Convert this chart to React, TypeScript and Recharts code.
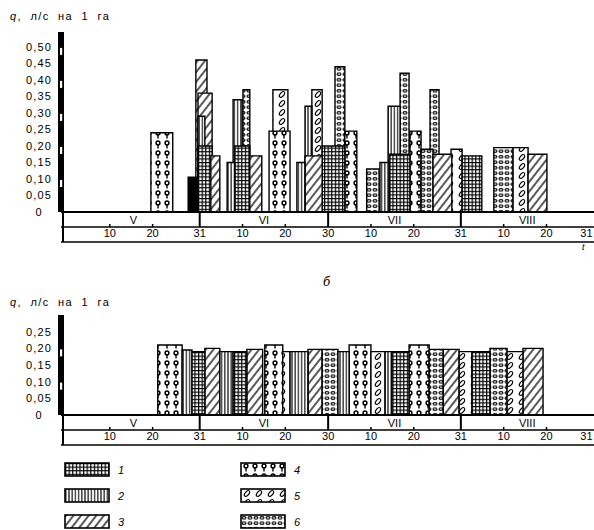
import { ComposedChart, Line, ReferenceArea, XAxis, YAxis } from "recharts";

// Hydromodule graph: a — before, б — after equalisation.
// x = days from 1 May, y = q (l/s per ha).

type Pat = "p1" | "p2" | "p3" | "p4" | "p5" | "p6" | "solid";

const MONTHS = ["V", "VI", "VII", "VIII"];
const MONTH_MID = [15.5, 46, 76.5, 107.5];
const MONTH_END = [31, 61, 92];
const DAY_TICKS = [10, 20, 31, 41, 51, 61, 71, 81, 92, 102, 112, 123];
const DAY_LABELS = ["10", "20", "31", "10", "20", "30", "10", "20", "31", "10", "20", "31"];
const X_DOMAIN: [number, number] = [-1.4, 123.1];

const TOP_Y_TICKS = [0, 0.05, 0.1, 0.15, 0.2, 0.25, 0.3, 0.35, 0.4, 0.45, 0.5];
const BOTTOM_Y_TICKS = [0, 0.05, 0.1, 0.15, 0.2, 0.25];

// [start day, end day, q, pattern]
const TOP_BARS: [number, number, number, Pat][] = [
  [19.6, 24.7, 0.24, "p4"],
  [28.3, 30.4, 0.105, "solid"],
  [30.1, 32.7, 0.46, "p3"],
  [30.6, 33.9, 0.36, "p3"],
  [30.6, 32.2, 0.29, "p2"],
  [30.6, 33.9, 0.2, "p1"],
  [33.6, 35.7, 0.17, "p3"],
  [37.4, 39.2, 0.15, "p2"],
  [38.8, 40.9, 0.34, "p2"],
  [41.1, 42.7, 0.37, "p6"],
  [39.2, 42.7, 0.2, "p1"],
  [42.7, 45.5, 0.17, "p3"],
  [48.1, 51.6, 0.37, "p5"],
  [47.2, 52.1, 0.245, "p4"],
  [53.7, 55.6, 0.15, "p2"],
  [55.6, 57.2, 0.32, "p2"],
  [57.2, 59.6, 0.37, "p5"],
  [55.6, 59.6, 0.17, "p3"],
  [62.6, 64.9, 0.44, "p6"],
  [59.6, 64.9, 0.2, "p1"],
  [64.9, 67.7, 0.245, "p4"],
  [70.0, 72.9, 0.13, "p6"],
  [73.1, 75.2, 0.15, "p2"],
  [75.0, 77.8, 0.32, "p2"],
  [75.4, 80.1, 0.175, "p1"],
  [77.8, 79.9, 0.42, "p6"],
  [80.1, 82.7, 0.245, "p4"],
  [82.7, 85.5, 0.19, "p6"],
  [84.8, 86.9, 0.37, "p6"],
  [85.5, 89.9, 0.175, "p3"],
  [89.7, 92.3, 0.19, "p5"],
  [92.3, 96.9, 0.17, "p1"],
  [99.7, 104.2, 0.195, "p6"],
  [104.2, 107.7, 0.195, "p5"],
  [107.7, 112.1, 0.175, "p3"],
];

const BOTTOM_BARS: [number, number, number, Pat][] = [
  [21.2, 26.9, 0.21, "p4"],
  [26.9, 29.2, 0.195, "p2"],
  [29.2, 32.2, 0.19, "p1"],
  [32.2, 35.7, 0.2, "p3"],
  [35.7, 38.8, 0.19, "p2"],
  [38.8, 42.0, 0.19, "p1"],
  [42.0, 45.7, 0.197, "p3"],
  [46.2, 50.4, 0.21, "p4"],
  [50.4, 52.1, 0.19, "p5"],
  [52.1, 56.3, 0.19, "p2"],
  [56.3, 59.6, 0.197, "p3"],
  [59.6, 63.3, 0.197, "p6"],
  [63.3, 65.9, 0.19, "p2"],
  [65.9, 71.0, 0.21, "p4"],
  [71.0, 74.3, 0.19, "p5"],
  [74.3, 75.9, 0.19, "p2"],
  [75.9, 79.9, 0.19, "p1"],
  [79.9, 84.6, 0.21, "p4"],
  [84.6, 87.9, 0.197, "p6"],
  [87.9, 91.6, 0.197, "p3"],
  [91.6, 94.6, 0.19, "p5"],
  [94.6, 98.8, 0.19, "p1"],
  [98.8, 102.8, 0.2, "p6"],
  [102.8, 106.5, 0.19, "p5"],
  [106.5, 111.2, 0.2, "p3"],
];

const LEGEND_LEFT: [Pat, string][] = [["p1", "1"], ["p2", "2"], ["p3", "3"]];
const LEGEND_RIGHT: [Pat, string][] = [["p4", "4"], ["p5", "5"], ["p6", "6"]];

const FONT = "'Liberation Sans', Arial, sans-serif";
const INK = "#000";

function PatternDefs({ id }: { id: string }) {
  return (
    <defs>
      <pattern id={`${id}-p1`} width="3.6" height="3.6" patternUnits="userSpaceOnUse">
        <rect width="3.6" height="3.6" fill="#fff" />
        <path d="M0 0.6H3.6M0.6 0V3.6" stroke={INK} strokeWidth="1.2" />
      </pattern>
      <pattern id={`${id}-p2`} width="3.2" height="10" patternUnits="userSpaceOnUse">
        <rect width="3.2" height="10" fill="#fff" />
        <path d="M0.8 0V10" stroke={INK} strokeWidth="1.1" />
      </pattern>
      <pattern id={`${id}-p3`} width="6" height="6" patternUnits="userSpaceOnUse" patternTransform="rotate(38)">
        <rect width="6" height="6" fill="#fff" />
        <path d="M1 0V6" stroke={INK} strokeWidth="1.3" />
      </pattern>
      <pattern id={`${id}-p4`} width="9" height="10" patternUnits="userSpaceOnUse" x="1">
        <rect width="9" height="10" fill="#fff" />
        <circle cx="4" cy="3" r="1.9" fill="none" stroke={INK} strokeWidth="1.5" />
        <path d="M4 5V8.6" stroke={INK} strokeWidth="1.4" />
      </pattern>
      <pattern id={`${id}-p5`} width="12" height="9" patternUnits="userSpaceOnUse">
        <rect width="12" height="9" fill="#fff" />
        <ellipse cx="6" cy="4.5" rx="3.4" ry="1.9" transform="rotate(-50 6 4.5)" fill="none" stroke={INK} strokeWidth="1.2" />
      </pattern>
      <pattern id={`${id}-p6`} width="6" height="5.5" patternUnits="userSpaceOnUse">
        <rect width="6" height="5.5" fill="#fff" />
        <ellipse cx="3" cy="2.75" rx="2" ry="1.3" fill="none" stroke={INK} strokeWidth="1.1" />
      </pattern>
    </defs>
  );
}

const fill = (id: string, p: Pat) => (p === "solid" ? INK : `url(#${id}-${p})`);

const qLabel = (v: number) => (v === 0 ? "0" : v.toFixed(2).replace(".", ","));

// tick label plus the white notch in the thick axis bar at every 0.10
function YTick(props: any) {
  const { x, y, payload } = props;
  const v = payload.value;
  const notch = v > 0 && Math.round(v * 100) % 10 === 0;
  return (
    <g>
      {notch && <rect x={x - 1} y={y + 1} width={2.2} height={7} fill="#fff" />}
      <text x={x - 22} y={y + 4} textAnchor="middle" fontSize={11} letterSpacing={1.1} fontFamily={FONT} fill={INK}>
        {qLabel(v)}
      </text>
    </g>
  );
}

function MonthTick(props: any) {
  const { x, y, payload, bandHeight } = props;
  const v = payload.value;
  if (v === X_DOMAIN[0]) {
    return <line x1={x + 2} x2={x + 2} y1={y} y2={y + bandHeight} stroke={INK} strokeWidth={2} />;
  }
  if (MONTH_END.includes(v)) {
    return <line x1={x} x2={x} y1={y} y2={y + 15} stroke={INK} strokeWidth={2} />;
  }
  return (
    <text x={x} y={y + 12} textAnchor="middle" fontSize={11} fontFamily={FONT} fill={INK}>
      {MONTHS[MONTH_MID.indexOf(v)]}
    </text>
  );
}

function DayTick(props: any) {
  const { x, y, payload } = props;
  const i = DAY_TICKS.indexOf(payload.value);
  const last = i === DAY_TICKS.length - 1;
  return (
    <g>
      {!MONTH_END.includes(payload.value) && !last && (
        <line x1={x} x2={x} y1={y - 3} y2={y} stroke={INK} strokeWidth={1.5} />
      )}
      <text
        x={last ? x - 1 : x}
        y={y + 10}
        textAnchor={last ? "end" : "middle"}
        fontSize={11}
        fontFamily={FONT}
        fill={INK}
      >
        {DAY_LABELS[i]}
      </text>
    </g>
  );
}

interface PanelProps {
  id: string;
  bars: [number, number, number, Pat][];
  yMax: number;
  yTicks: number[];
  top: number;
  height: number;
}

function Panel({ id, bars, yMax, yTicks, top, height }: PanelProps) {
  const sorted = [...bars].sort((a, b) => b[2] - a[2]);
  return (
    <ComposedChart
      width={594}
      height={height}
      data={[{ d: X_DOMAIN[0], q: 0 }, { d: X_DOMAIN[1], q: 0 }]}
      margin={{ top, right: 0, bottom: 2, left: 0 }}
    >
      <PatternDefs id={id} />
      {/* ids sort in stacking order: months, days, closing line */}
      <XAxis
        xAxisId="a1"
        dataKey="d"
        type="number"
        domain={X_DOMAIN}
        ticks={[X_DOMAIN[0], ...MONTH_MID, ...MONTH_END]}
        interval={0}
        height={15}
        tickSize={0}
        tickMargin={0}
        tickLine={false}
        axisLine={{ stroke: INK, strokeWidth: 2 }}
        tick={<MonthTick bandHeight={30} />}
      />
      <XAxis
        xAxisId="a2"
        dataKey="d"
        type="number"
        domain={X_DOMAIN}
        ticks={DAY_TICKS}
        interval={0}
        height={15}
        tickSize={0}
        tickMargin={0}
        tickLine={false}
        axisLine={{ stroke: INK, strokeWidth: 1.5 }}
        tick={<DayTick />}
      />
      <XAxis
        xAxisId="a3"
        dataKey="d"
        type="number"
        domain={X_DOMAIN}
        height={1}
        tick={false}
        tickLine={false}
        axisLine={{ stroke: INK, strokeWidth: 1.5 }}
      />
      <YAxis
        type="number"
        domain={[0, yMax]}
        ticks={yTicks}
        interval={0}
        width={61}
        tickSize={0}
        tickMargin={0}
        tickLine={false}
        axisLine={{ stroke: INK, strokeWidth: 6 }}
        tick={<YTick />}
      />
      <Line xAxisId="a2" dataKey="q" stroke="none" dot={false} activeDot={false} isAnimationActive={false} />
      {sorted.map(([x1, x2, q, p], i) => (
        <ReferenceArea
          key={i}
          xAxisId="a2"
          x1={x1}
          x2={x2}
          y1={0}
          y2={q}
          fill={fill(id, p)}
          fillOpacity={1}
          stroke={INK}
          strokeWidth={1.4}
          ifOverflow="visible"
        />
      ))}
    </ComposedChart>
  );
}

function LegendRow({ items, x }: { items: [Pat, string][]; x: number }) {
  return (
    <>
      {items.map(([p, label], i) => (
        <g key={p} transform={`translate(${x}, ${i * 26})`}>
          <rect x={0} y={0} width={44} height={13} fill={fill("lg", p)} stroke={INK} strokeWidth={1.6} />
          <text x={53} y={11} fontSize={11} fontStyle="italic" fontFamily={FONT} fill={INK}>
            {label}
          </text>
        </g>
      ))}
    </>
  );
}

const TitleStyle: React.CSSProperties = {
  position: "absolute",
  left: 10,
  fontFamily: FONT,
  fontSize: 11,
  letterSpacing: 1.4,
  wordSpacing: 4,
  whiteSpace: "nowrap",
};

export default function App() {
  return (
    <div style={{ position: "absolute", left: 0, top: 0, width: 594, height: 530, overflow: "hidden", background: "#fff" }}>
      <div style={{ ...TitleStyle, top: 10 }}>
        <i>q</i>, л/с на 1 га
      </div>
      <div style={{ position: "absolute", left: 0, top: 0 }}>
        <Panel id="top" bars={TOP_BARS} yMax={0.545} yTicks={TOP_Y_TICKS} top={32} height={245} />
      </div>
      <div style={{ position: "absolute", left: 582, top: 242, fontFamily: FONT, fontSize: 9, fontStyle: "italic" }}>t</div>
      <div style={{ position: "absolute", left: 323, top: 275, fontFamily: "'DejaVu Serif', serif", fontSize: 12, fontStyle: "italic" }}>
        б
      </div>
      <div style={{ ...TitleStyle, top: 296 }}>
        <i>q</i>, л/с на 1 га
      </div>
      <div style={{ position: "absolute", left: 0, top: 280 }}>
        <Panel id="bot" bars={BOTTOM_BARS} yMax={0.3} yTicks={BOTTOM_Y_TICKS} top={35} height={168} />
      </div>
      <svg width={594} height={80} style={{ position: "absolute", left: 0, top: 458 }}>
        <PatternDefs id="lg" />
        <g transform="translate(0, 5)">
          <LegendRow items={LEGEND_LEFT} x={65} />
          <LegendRow items={LEGEND_RIGHT} x={241} />
        </g>
      </svg>
    </div>
  );
}
